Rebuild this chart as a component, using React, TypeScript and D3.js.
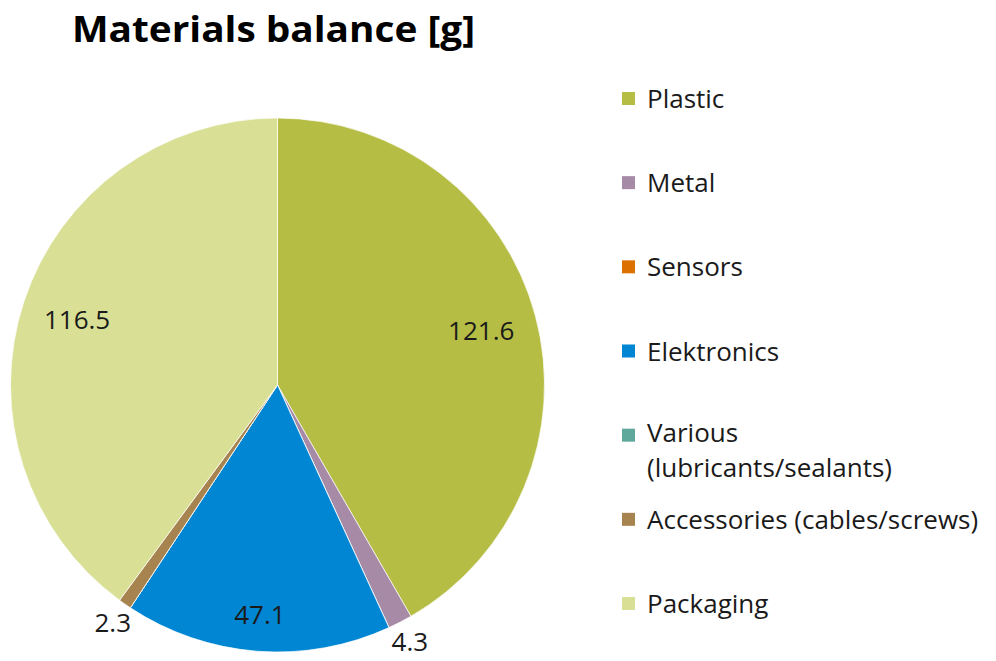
import React from "react";
import * as d3 from "d3";

const categories = [
  "Plastic",
  "Metal",
  "Sensors",
  "Elektronics",
  "Various (lubricants/sealants)",
  "Accessories (cables/screws)",
  "Packaging",
];
const legendLines = [
  ["Plastic"],
  ["Metal"],
  ["Sensors"],
  ["Elektronics"],
  ["Various", "(lubricants/sealants)"],
  ["Accessories (cables/screws)"],
  ["Packaging"],
];
const values = [121.6, 4.3, 0, 47.1, 0, 2.3, 116.5];
const colors = ["#b5bd45", "#a68aa6", "#dc7000", "#0086d2", "#5ea99b", "#a7834f", "#d9e096"];

const width = 996;
const height = 661;
const cx = 277.5;
const cy = 385;
const radius = 267;
const font = "'Open Sans', Lato, sans-serif";
const legendFont = 26;
const lineStep = 35.5;

export default function App() {
  const pie = d3
    .pie<number>()
    .sort(null)
    .value((d) => d)
    .startAngle(0)
    .endAngle(2 * Math.PI);
  const arcs = pie(values);
  const arc = d3.arc<d3.PieArcDatum<number>>().innerRadius(0).outerRadius(radius);
  const total = d3.sum(values);

  // small slices get their label outside, the rest sit inside near the rim
  const labelPos = (d: d3.PieArcDatum<number>) => {
    const share = d.value / total;
    const r = share < 0.05 ? radius * 1.08 : share < 0.25 ? radius * 0.86 : radius * 0.79;
    return d3.arc<d3.PieArcDatum<number>>().innerRadius(r).outerRadius(r).centroid(d);
  };

  const legendY = d3.scalePoint<number>().domain(d3.range(categories.length)).range([98, 603]);

  return (
    <svg width={width} height={height} style={{ position: "absolute", left: 0, top: 0 }}>
      <text x={72} y={42} fontFamily={font} fontWeight={700} fontSize={35} fill="#000" textLength={403} lengthAdjust="spacingAndGlyphs">
        Materials balance [g]
      </text>
      <g transform={`translate(${cx},${cy})`}>
        {arcs.map((d, i) => (
          <path key={categories[i]} d={arc(d) || ""} fill={colors[i]} stroke="#fff" strokeWidth={0.7} />
        ))}
        {arcs
          .filter((d) => d.value > 0)
          .map((d) => {
            const [x, y] = labelPos(d);
            return (
              <text
                key={d.index}
                x={x}
                y={y}
                textAnchor="middle"
                dominantBaseline="central"
                fontFamily={font}
                fontSize={26}
                fill="#1a1a1a"
              >
                {d.value.toFixed(1)}
              </text>
            );
          })}
      </g>
      <g>
        {categories.map((c, i) => {
          const y = legendY(i) as number;
          const lines = legendLines[i];
          const shift = lines.length > 1 ? -3 : 0;
          return (
            <g key={c} transform={`translate(622,${y})`}>
              <rect x={0} y={-6} width={13} height={13} fill={colors[i]} />
              {lines.map((line, j) => (
                <text
                  key={j}
                  x={25}
                  y={shift + j * lineStep}
                  dominantBaseline="central"
                  fontFamily={font}
                  fontSize={legendFont}
                  fill="#1a1a1a"
                >
                  {line}
                </text>
              ))}
            </g>
          );
        })}
      </g>
    </svg>
  );
}
